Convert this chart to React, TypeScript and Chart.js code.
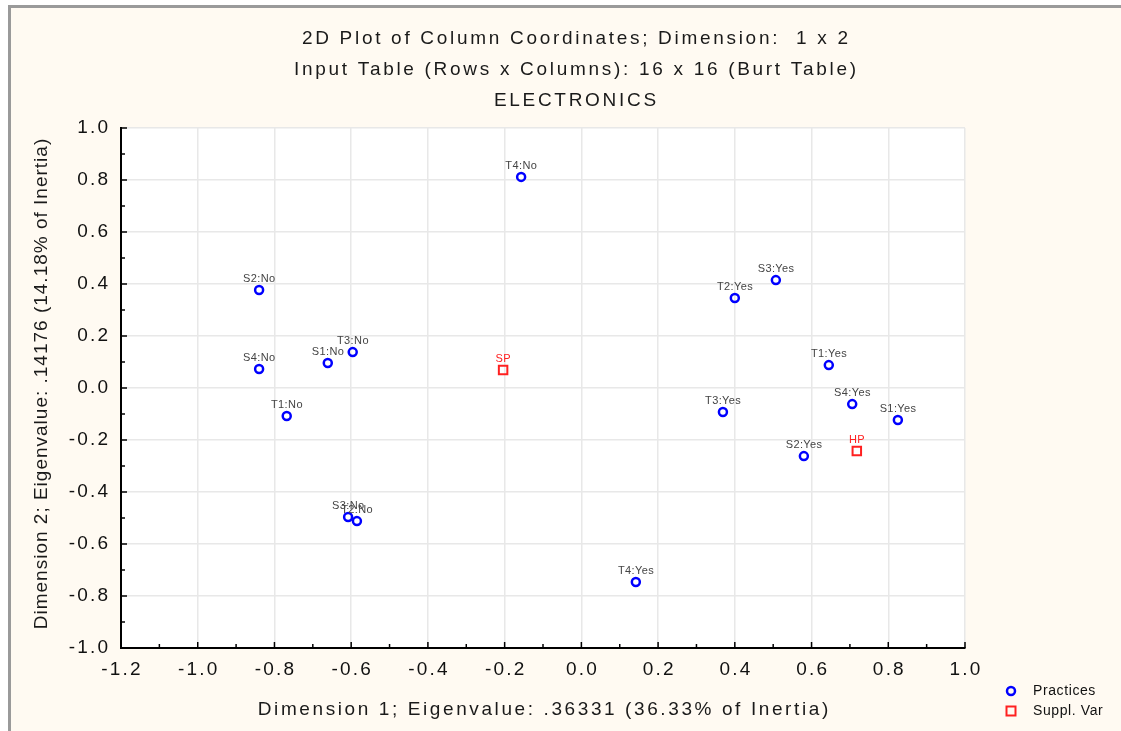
import React, { useEffect, useRef } from 'react';
import { Chart, registerables } from 'chart.js';

Chart.register(...registerables);

// ---------- data ----------
const titleLines = [
  '2D Plot of Column Coordinates; Dimension:  1 x 2',
  'Input Table (Rows x Columns): 16 x 16 (Burt Table)',
  'ELECTRONICS',
];
const xAxisTitle = 'Dimension 1; Eigenvalue: .36331 (36.33% of Inertia)';
const yAxisTitle = 'Dimension 2; Eigenvalue: .14176 (14.18% of Inertia)';

const practiceLabels = [
  'S1:No', 'S2:No', 'S3:No', 'S4:No', 'T1:No', 'T2:No', 'T3:No', 'T4:No',
  'S1:Yes', 'S2:Yes', 'S3:Yes', 'S4:Yes', 'T1:Yes', 'T2:Yes', 'T3:Yes', 'T4:Yes',
];
const practiceDim1 = [
  -0.661, -0.840, -0.608, -0.840, -0.768, -0.585, -0.596, -0.157,
  0.825, 0.580, 0.507, 0.706, 0.645, 0.400, 0.369, 0.142,
];
const practiceDim2 = [
  0.096, 0.377, -0.496, 0.073, -0.108, -0.512, 0.138, 0.812,
  -0.123, -0.262, 0.415, -0.062, 0.088, 0.346, -0.092, -0.746,
];

const suppLabels = ['SP', 'HP'];
const suppDim1 = [-0.204, 0.718];
const suppDim2 = [0.069, -0.242];

const seriesNames = ['Practices', 'Suppl. Var'];

const xMin = -1.2;
const xMax = 1.0;
const yMin = -1.0;
const yMax = 1.0;
const majorStep = 0.2;
const minorStep = 0.1;

// ---------- styling ----------
const FONT = '"Liberation Sans", Arial, Helvetica, sans-serif';
const BLUE = '#0000ff';
const RED = '#ff2020';

function drawSpaced(
  ctx: CanvasRenderingContext2D,
  text: string,
  x: number,
  y: number,
  size: number,
  color: string,
  align: 'left' | 'center' | 'right',
  spacing: number,
  rotate = false,
) {
  ctx.save();
  ctx.font = `${size}px ${FONT}`;
  ctx.fillStyle = color;
  ctx.textBaseline = 'middle';
  ctx.textAlign = 'left';
  (ctx as any).letterSpacing = `${spacing}px`;
  const w = ctx.measureText(text).width - spacing;
  let dx = 0;
  if (align === 'center') dx = -w / 2;
  else if (align === 'right') dx = -w;
  if (rotate) {
    ctx.translate(x, y);
    ctx.rotate(-Math.PI / 2);
    ctx.fillText(text, dx, 0);
  } else {
    ctx.fillText(text, x + dx, y);
  }
  ctx.restore();
}

const fmt = (v: number) => (Math.abs(v) < 1e-9 ? '0.0' : v.toFixed(1));

const decorPlugin = {
  id: 'decor',
  beforeDraw(chart: any) {
    const { ctx, chartArea } = chart;
    ctx.save();
    ctx.fillStyle = '#ffffff';
    ctx.fillRect(chartArea.left, chartArea.top, chartArea.right - chartArea.left, chartArea.bottom - chartArea.top);
    ctx.restore();
  },
  afterDraw(chart: any) {
    const { ctx, chartArea } = chart;
    const xs = chart.scales.x;
    const ys = chart.scales.y;

    // inward tick marks
    ctx.save();
    ctx.strokeStyle = '#000';
    ctx.lineWidth = 1.5;
    const nx = Math.round((xMax - xMin) / minorStep);
    for (let i = 0; i <= nx; i++) {
      const v = xMin + i * minorStep;
      const px = xs.getPixelForValue(v);
      const len = i % 2 === 0 ? 6 : 4;
      ctx.beginPath();
      ctx.moveTo(px, chartArea.bottom);
      ctx.lineTo(px, chartArea.bottom - len);
      ctx.stroke();
    }
    const ny = Math.round((yMax - yMin) / minorStep);
    for (let i = 0; i <= ny; i++) {
      const v = yMin + i * minorStep;
      const py = ys.getPixelForValue(v);
      const len = i % 2 === 0 ? 6 : 4;
      ctx.beginPath();
      ctx.moveTo(chartArea.left, py);
      ctx.lineTo(chartArea.left + len, py);
      ctx.stroke();
    }
    ctx.restore();

    // tick labels
    xs.ticks.forEach((t: any) => {
      drawSpaced(ctx, fmt(t.value), xs.getPixelForValue(t.value), chartArea.bottom + 22, 19, '#111', 'center', 2.2);
    });
    ys.ticks.forEach((t: any) => {
      drawSpaced(ctx, fmt(t.value), chartArea.left - 13, ys.getPixelForValue(t.value), 19, '#111', 'right', 2.2);
    });

    // titles
    const w = chart.width;
    titleLines.forEach((line, i) => {
      drawSpaced(ctx, line, 564, 31 + i * 31, 19, '#1a1a1a', 'center', 2.7);
    });
    drawSpaced(ctx, xAxisTitle, (chartArea.left + chartArea.right) / 2, 702, 19, '#1a1a1a', 'center', 2.6);
    drawSpaced(ctx, yAxisTitle, 31, (chartArea.top + chartArea.bottom) / 2 - 4, 19, '#1a1a1a', 'center', 1.0, true);

    // point labels
    const labelSets = [practiceLabels, suppLabels];
    const labelColors = ['#444444', RED];
    chart.data.datasets.forEach((ds: any, di: number) => {
      const meta = chart.getDatasetMeta(di);
      meta.data.forEach((el: any, i: number) => {
        drawSpaced(ctx, labelSets[di][i], el.x, el.y - 11, 11, labelColors[di], 'center', 0.4);
      });
    });

    // legend
    const lx = w - 110;
    const ly = 683;
    ctx.save();
    ctx.strokeStyle = BLUE;
    ctx.lineWidth = 2.5;
    ctx.beginPath();
    ctx.arc(lx, ly, 4, 0, Math.PI * 2);
    ctx.stroke();
    ctx.strokeStyle = RED;
    ctx.lineWidth = 2;
    ctx.strokeRect(lx - 4.5, ly + 20 - 4.5, 9, 9);
    ctx.restore();
    drawSpaced(ctx, chart.data.datasets[0].label, lx + 22, ly, 14, '#111', 'left', 0.6);
    drawSpaced(ctx, chart.data.datasets[1].label, lx + 22, ly + 20, 14, '#111', 'left', 0.6);
  },
};

export default function App() {
  const canvasRef = useRef<HTMLCanvasElement | null>(null);

  useEffect(() => {
    if (!canvasRef.current) return;
    const chart = new Chart(canvasRef.current, {
      type: 'scatter',
      data: {
        datasets: [
          {
            label: seriesNames[0],
            data: practiceDim1.map((x, i) => ({ x, y: practiceDim2[i] })),
            pointStyle: 'circle',
            pointRadius: 4,
            pointBorderWidth: 2.5,
            pointBorderColor: BLUE,
            pointBackgroundColor: 'rgba(0,0,0,0)',
            showLine: false,
          },
          {
            label: seriesNames[1],
            data: suppDim1.map((x, i) => ({ x, y: suppDim2[i] })),
            pointStyle: 'rect',
            pointRadius: 6,
            pointBorderWidth: 2,
            pointBorderColor: RED,
            pointBackgroundColor: 'rgba(0,0,0,0)',
            showLine: false,
          },
        ],
      },
      options: {
        responsive: false,
        animation: false,
        devicePixelRatio: 1,
        events: [],
        layout: { padding: { left: 10, right: 156, top: 120, bottom: 13 } },
        plugins: {
          legend: { display: false },
          title: { display: false },
          tooltip: { enabled: false },
        },
        scales: {
          x: {
            type: 'linear',
            min: xMin,
            max: xMax,
            ticks: { display: false, stepSize: majorStep },
            grid: { color: '#e8e8e8', lineWidth: 1.5, drawTicks: false },
            border: { display: true, color: '#000', width: 2 },
            afterFit: (s: any) => { s.height = 70; },
          },
          y: {
            type: 'linear',
            min: yMin,
            max: yMax,
            ticks: { display: false, stepSize: majorStep },
            grid: { color: '#e8e8e8', lineWidth: 1.5, drawTicks: false },
            border: { display: true, color: '#000', width: 2 },
            afterFit: (s: any) => { s.width = 100; },
          },
        },
      } as any,
      plugins: [decorPlugin],
    });
    return () => chart.destroy();
  }, []);

  return (
    <div
      style={{
        position: 'fixed',
        left: 8,
        top: 5,
        width: 1110,
        height: 723,
        background: '#fffaf2',
        borderLeft: '3px solid #9a9a9a',
        borderTop: '3px solid #9a9a9a',
      }}
    >
      <canvas ref={canvasRef} width={1110} height={723} style={{ display: 'block', width: 1110, height: 723 }} />
    </div>
  );
}
